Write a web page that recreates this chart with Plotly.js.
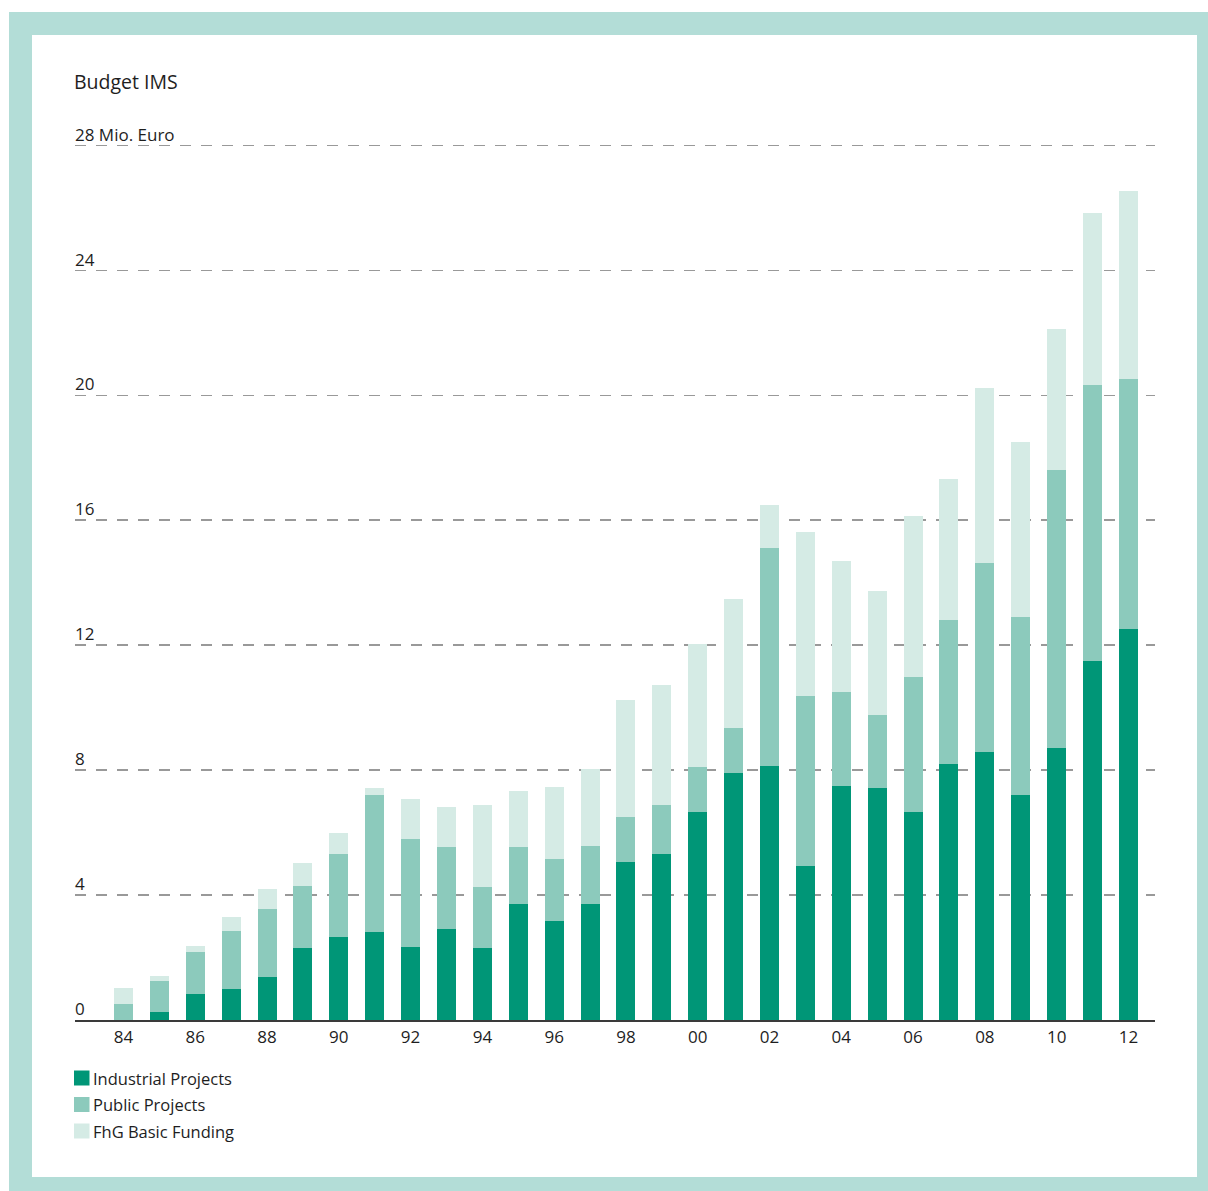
<!DOCTYPE html>
<html>
<head>
<meta charset="utf-8">
<script src="https://cdn.plot.ly/plotly-3.0.1.min.js"></script>
<style>
  html, body { margin: 0; padding: 0; background: #ffffff; }
  body { width: 1208px; height: 1191px; position: relative; overflow: hidden; }
  #frame { position: absolute; left: 9px; top: 12px; width: 1199px; height: 1179px; background: #b3ddd7; }
  #inner { position: absolute; left: 32px; top: 35px; width: 1165px; height: 1142px; background: #ffffff; }
  #chart { position: absolute; left: 0; top: 0; width: 1208px; height: 1191px; }
</style>
</head>
<body>
<div id="frame"></div>
<div id="inner"></div>
<div id="chart"></div>
<script>
// IMS budget by funding source, million euro
const years = [1984, 1985, 1986, 1987, 1988, 1989, 1990, 1991, 1992, 1993,
               1994, 1995, 1996, 1997, 1998, 1999, 2000, 2001, 2002, 2003,
               2004, 2005, 2006, 2007, 2008, 2009, 2010, 2011, 2012];

const industrialProjects = [0.00, 0.27, 0.82, 0.98, 1.39, 2.32, 2.67, 2.83, 2.35, 2.90,
                            2.29, 3.70, 3.18, 3.73, 5.07, 5.33, 6.67, 7.92, 8.14, 4.94,
                            7.50, 7.44, 6.67, 8.21, 8.59, 7.22, 8.72, 11.50, 12.53];

const publicProjects = [0.50, 0.99, 1.37, 1.88, 2.15, 1.98, 2.66, 4.39, 3.46, 2.65,
                        1.98, 1.85, 1.99, 1.85, 1.44, 1.57, 1.44, 1.44, 6.98, 5.44,
                        3.01, 2.34, 4.32, 4.61, 6.05, 5.69, 8.90, 8.84, 8.00];

const fhgBasicFunding = [0.51, 0.16, 0.19, 0.45, 0.67, 0.74, 0.67, 0.22, 1.28, 1.28,
                         2.63, 1.79, 2.30, 2.47, 3.75, 3.84, 3.94, 4.13, 1.38, 5.25,
                         4.19, 3.96, 5.15, 4.51, 5.60, 5.60, 4.51, 5.50, 6.01];

const seriesNames = ["Industrial Projects", "Public Projects", "FhG Basic Funding"];
const seriesColors = ["#009677", "#8ccabc", "#d5ebe5"];

const xTickVals = [1984, 1986, 1988, 1990, 1992, 1994, 1996, 1998, 2000, 2002, 2004, 2006, 2008, 2010, 2012];
const xTickText = ["84", "86", "88", "90", "92", "94", "96", "98", "00", "02", "04", "06", "08", "10", "12"];
const yTickVals = [0, 4, 8, 12, 16, 20, 24, 28];
const yTickText = ["0", "4", "8", "12", "16", "20", "24", "28 Mio. Euro"];

const chartTitle = "Budget IMS";
const FONT = "Open Sans, Noto Sans, sans-serif";
const TEXT = "#1e1e1e";

const seriesValues = [industrialProjects, publicProjects, fhgBasicFunding];
const traces = seriesValues.map((vals, i) => ({
  type: "bar",
  name: seriesNames[i],
  x: years,
  y: vals,
  marker: { color: seriesColors[i], line: { width: 0 } },
  hoverinfo: "x+y+name",
  showlegend: false
}));

// legend drawn as swatches + labels below the axis
const shapes = [];
const annotations = [];
seriesNames.forEach((name, i) => {
  const top = -50.5 - i * 26.5;
  shapes.push({
    type: "rect", layer: "above",
    xref: "paper", xsizemode: "pixel", xanchor: 0, x0: -1, x1: 14.5,
    yref: "paper", ysizemode: "pixel", yanchor: 0, y0: top - 15, y1: top,
    fillcolor: seriesColors[i], line: { width: 0 }
  });
  annotations.push({
    xref: "paper", x: 0, xshift: 16, xanchor: "left",
    yref: "paper", y: 0, yshift: top - 7.5, yanchor: "middle",
    text: name, showarrow: false,
    font: { family: FONT, size: 16.5, color: TEXT }
  });
});

const layout = {
  width: 1208,
  height: 1191,
  paper_bgcolor: "rgba(0,0,0,0)",
  plot_bgcolor: "rgba(0,0,0,0)",
  margin: { l: 75, r: 53, t: 130, b: 170.5, pad: 0 },
  title: {
    text: chartTitle,
    xref: "container", x: 74 / 1208, xanchor: "left",
    yref: "container", y: 1 - 82 / 1191, yanchor: "middle",
    font: { family: FONT, size: 19.5, color: TEXT }
  },
  barmode: "stack",
  bargap: 0.47,
  showlegend: false,
  xaxis: {
    range: [1982.65, 2012.74],
    tickmode: "array",
    tickvals: xTickVals,
    ticktext: xTickText,
    ticks: "",
    ticklabelstandoff: 1,
    showgrid: false,
    zeroline: false,
    showline: true,
    linecolor: "#3a3a3a",
    linewidth: 1.5,
    tickfont: { family: FONT, size: 17, color: TEXT },
    fixedrange: true
  },
  yaxis: {
    range: [0, 28.5],
    tickmode: "array",
    tickvals: yTickVals,
    ticktext: yTickText,
    ticks: "",
    ticklabelposition: "inside top",
    ticklabeloverflow: "allow",
    ticklabelstandoff: -3,
    ticklabelshift: 1,
    showgrid: true,
    gridcolor: "#999999",
    gridwidth: 1.7,
    griddash: "11px,10px",
    zeroline: false,
    showline: false,
    tickfont: { family: FONT, size: 17, color: TEXT },
    fixedrange: true
  },
  shapes: shapes,
  annotations: annotations,
  font: { family: FONT, color: TEXT }
};

Plotly.newPlot("chart", traces, layout, { displayModeBar: false, staticPlot: true });
</script>
</body>
</html>
